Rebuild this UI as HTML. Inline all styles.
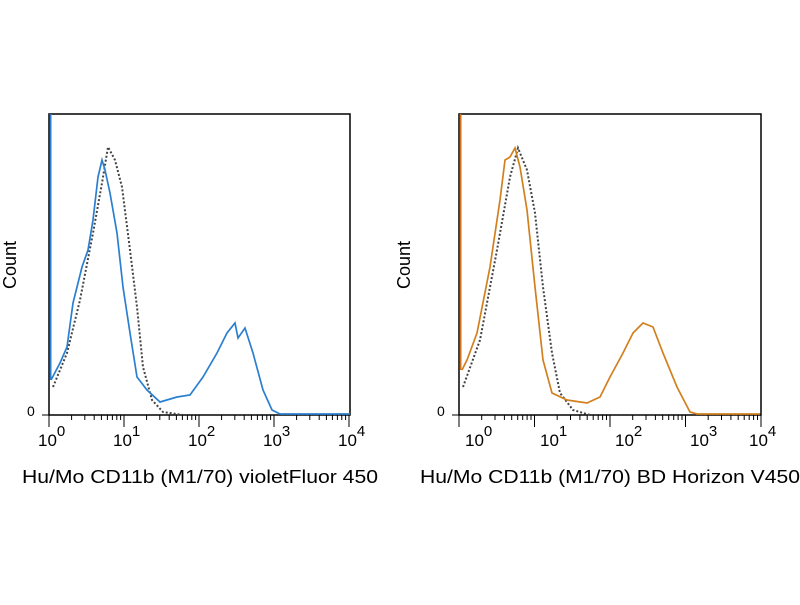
<!DOCTYPE html><html><head><style>body{margin:0;background:#fff}</style></head><body>
<svg width="800" height="600" xmlns="http://www.w3.org/2000/svg" font-family="Liberation Sans, sans-serif">
<rect width="800" height="600" fill="#fff"/>
<g id="L">
<rect x="49" y="114" width="301" height="301" fill="none" stroke="#000" stroke-width="1.5"/>
<text x="11" y="265" font-size="18" transform="rotate(-90 11 265)" text-anchor="middle" dominant-baseline="middle">Count</text>
<text x="27" y="416" font-size="14">0</text>
<line x1="42" y1="415" x2="49" y2="415" stroke="#000"/>
<line x1="50.5" y1="114" x2="50.5" y2="380" stroke="#2a7fd0" stroke-width="2"/>
<polyline fill="none" stroke="#444" stroke-width="2" stroke-dasharray="2,2" points="53,387 67,353 80,300 93,233 102,183 108,147 115,160 122,187 130,250 137,307 143,367 152,400 163,412 183,415 350,415"/>
<polyline fill="none" stroke="#2a7fd0" stroke-width="1.7" points="51,380 60,363 67,347 73,303 82,267 88,250 93,220 98,177 102,160 105,170 110,193 117,233 123,287 130,333 137,377 147,390 160,402 177,397 190,395 203,377 217,353 227,333 235,323 238,338 245,328 253,353 263,390 272,410 280,414 350,414"/>
</g>
<g id="R">
<rect x="459" y="114" width="302" height="301" fill="none" stroke="#000" stroke-width="1.5"/>
<text x="405" y="265" font-size="18" transform="rotate(-90 405 265)" text-anchor="middle" dominant-baseline="middle">Count</text>
<text x="437" y="416" font-size="14">0</text>
<line x1="452" y1="415" x2="459" y2="415" stroke="#000"/>
<line x1="460.5" y1="114" x2="460.5" y2="370" stroke="#d2731a" stroke-width="2"/>
<polyline fill="none" stroke="#444" stroke-width="2" stroke-dasharray="2,2" points="463,387 480,340 497,250 510,177 518,148 527,170 535,213 543,287 552,353 560,393 573,410 590,415 760,415"/>
<polyline fill="none" stroke="#d2801f" stroke-width="1.7" points="462,370 467,360 477,333 490,267 500,200 505,160 510,157 515,148 520,167 527,210 535,287 543,360 552,393 567,400 587,403 600,397 610,377 623,353 633,333 643,323 653,327 663,353 677,387 690,412 697,414 760,414"/>
</g>
<g font-size="17" fill="#000">
<text x="38" y="446">10<tspan dy="-10" font-size="15">0</tspan></text>
<text x="113" y="446">10<tspan dy="-10" font-size="15">1</tspan></text>
<text x="188" y="446">10<tspan dy="-10" font-size="15">2</tspan></text>
<text x="263" y="446">10<tspan dy="-10" font-size="15">3</tspan></text>
<text x="338" y="446">10<tspan dy="-10" font-size="15">4</tspan></text>
<text x="465" y="446">10<tspan dy="-10" font-size="15">0</tspan></text>
<text x="540" y="446">10<tspan dy="-10" font-size="15">1</tspan></text>
<text x="615" y="446">10<tspan dy="-10" font-size="15">2</tspan></text>
<text x="690" y="446">10<tspan dy="-10" font-size="15">3</tspan></text>
<text x="749" y="446">10<tspan dy="-10" font-size="15">4</tspan></text>
</g>
<text x="22" y="483" font-size="18" textLength="356" lengthAdjust="spacingAndGlyphs">Hu/Mo CD11b (M1/70) violetFluor 450</text>
<text x="420" y="483" font-size="18" textLength="380" lengthAdjust="spacingAndGlyphs">Hu/Mo CD11b (M1/70) BD Horizon V450</text>
<g stroke="#000" stroke-width="1">
<path d="M49,415V427M124,415V427M199,415V427M274,415V427M349,415V427M459,415V427M534.5,415V427M610,415V427M685.5,415V427M761,415V427"/>
<path d="M71.6,415v5M84.8,415v5M94.2,415v5M101.4,415v5M107.4,415v5M112.4,415v5M116.8,415v5M120.6,415v5M146.6,415v5M159.8,415v5M169.2,415v5M176.4,415v5M182.4,415v5M187.4,415v5M191.8,415v5M195.6,415v5M221.6,415v5M234.8,415v5M244.2,415v5M251.4,415v5M257.4,415v5M262.4,415v5M266.8,415v5M270.6,415v5M296.6,415v5M309.8,415v5M319.2,415v5M326.4,415v5M332.4,415v5M337.4,415v5M341.8,415v5M345.6,415v5"/>
<path d="M481.7,415v5M495,415v5M504.4,415v5M511.7,415v5M517.7,415v5M522.7,415v5M527.1,415v5M531,415v5M557.2,415v5M570.5,415v5M579.9,415v5M587.2,415v5M593.2,415v5M598.2,415v5M602.6,415v5M606.5,415v5M632.7,415v5M646,415v5M655.4,415v5M662.7,415v5M668.7,415v5M673.7,415v5M678.1,415v5M682,415v5M708.2,415v5M721.5,415v5M730.9,415v5M738.2,415v5M744.2,415v5M749.2,415v5M753.6,415v5M757.5,415v5"/>
</g>
</svg>
</body></html>
